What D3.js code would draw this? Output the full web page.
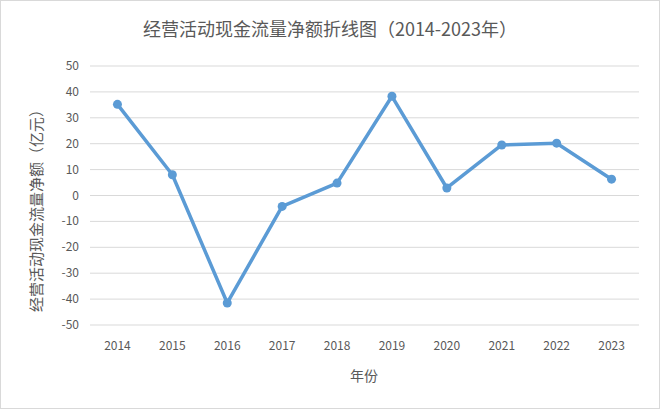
<!DOCTYPE html>
<html><head><meta charset="utf-8">
<script src="https://cdn.jsdelivr.net/npm/d3@7"></script>
<style>body{margin:0;background:#fff;font-family:"Noto Sans CJK SC","Noto Sans",sans-serif;}</style>
</head><body><svg id="c" width="660" height="409"></svg>
<script>
const years = ["2014","2015","2016","2017","2018","2019","2020","2021","2022","2023"];
const values = [35.2, 8.0, -41.5, -4.2, 4.8, 38.3, 2.9, 19.5, 20.2, 6.3];
const yTicks = [-50,-40,-30,-20,-10,0,10,20,30,40,50];
const title = "经营活动现金流量净额折线图（2014-2023年）";
const xTitle = "年份";
const yTitle = "经营活动现金流量净额（亿元）";

const svg = d3.select("#c");
svg.append("rect").attr("x",0.5).attr("y",0.5).attr("width",659).attr("height",408).attr("fill","#fff").attr("stroke","#d9d9d9");
const L=90,R=639,T=66,B=325;
const x = d3.scalePoint().domain(years).range([L,R]).padding(0.5);
const y = d3.scaleLinear().domain([-50,50]).range([B,T]);
svg.append("g").selectAll("line").data(yTicks).join("line")
  .attr("x1",L).attr("x2",R).attr("y1",d=>y(d)).attr("y2",d=>y(d))
  .attr("stroke","#d9d9d9").attr("stroke-width",1);
svg.append("g").selectAll("text").data(yTicks).join("text")
  .attr("x",L-11).attr("y",d=>y(d)+4).attr("text-anchor","end")
  .attr("font-size",12).attr("fill","#595959").text(d=>d);
svg.append("g").selectAll("text").data(years).join("text")
  .attr("x",d=>x(d)).attr("y",350).attr("text-anchor","middle")
  .attr("font-size",12).attr("fill","#595959").text(d=>d);
const line = d3.line().x((d,i)=>x(years[i])).y(d=>y(d));
svg.append("path").datum(values).attr("d",line).attr("fill","none")
  .attr("stroke","#5b9bd5").attr("stroke-width",3.5).attr("stroke-linejoin","round");
svg.append("g").selectAll("circle").data(values).join("circle")
  .attr("cx",(d,i)=>x(years[i])).attr("cy",d=>y(d)).attr("r",4.5).attr("fill","#5b9bd5");
svg.append("text").attr("x",330).attr("y",36).attr("text-anchor","middle")
  .attr("font-size",18).attr("fill","#595959").text(title);
svg.append("text").attr("x",364).attr("y",381).attr("text-anchor","middle")
  .attr("font-size",14).attr("fill","#595959").text(xTitle);
svg.append("text").attr("transform","translate(42,207) rotate(-90)").attr("text-anchor","middle")
  .attr("font-size",15).attr("fill","#595959").text(yTitle);
</script></body></html>
